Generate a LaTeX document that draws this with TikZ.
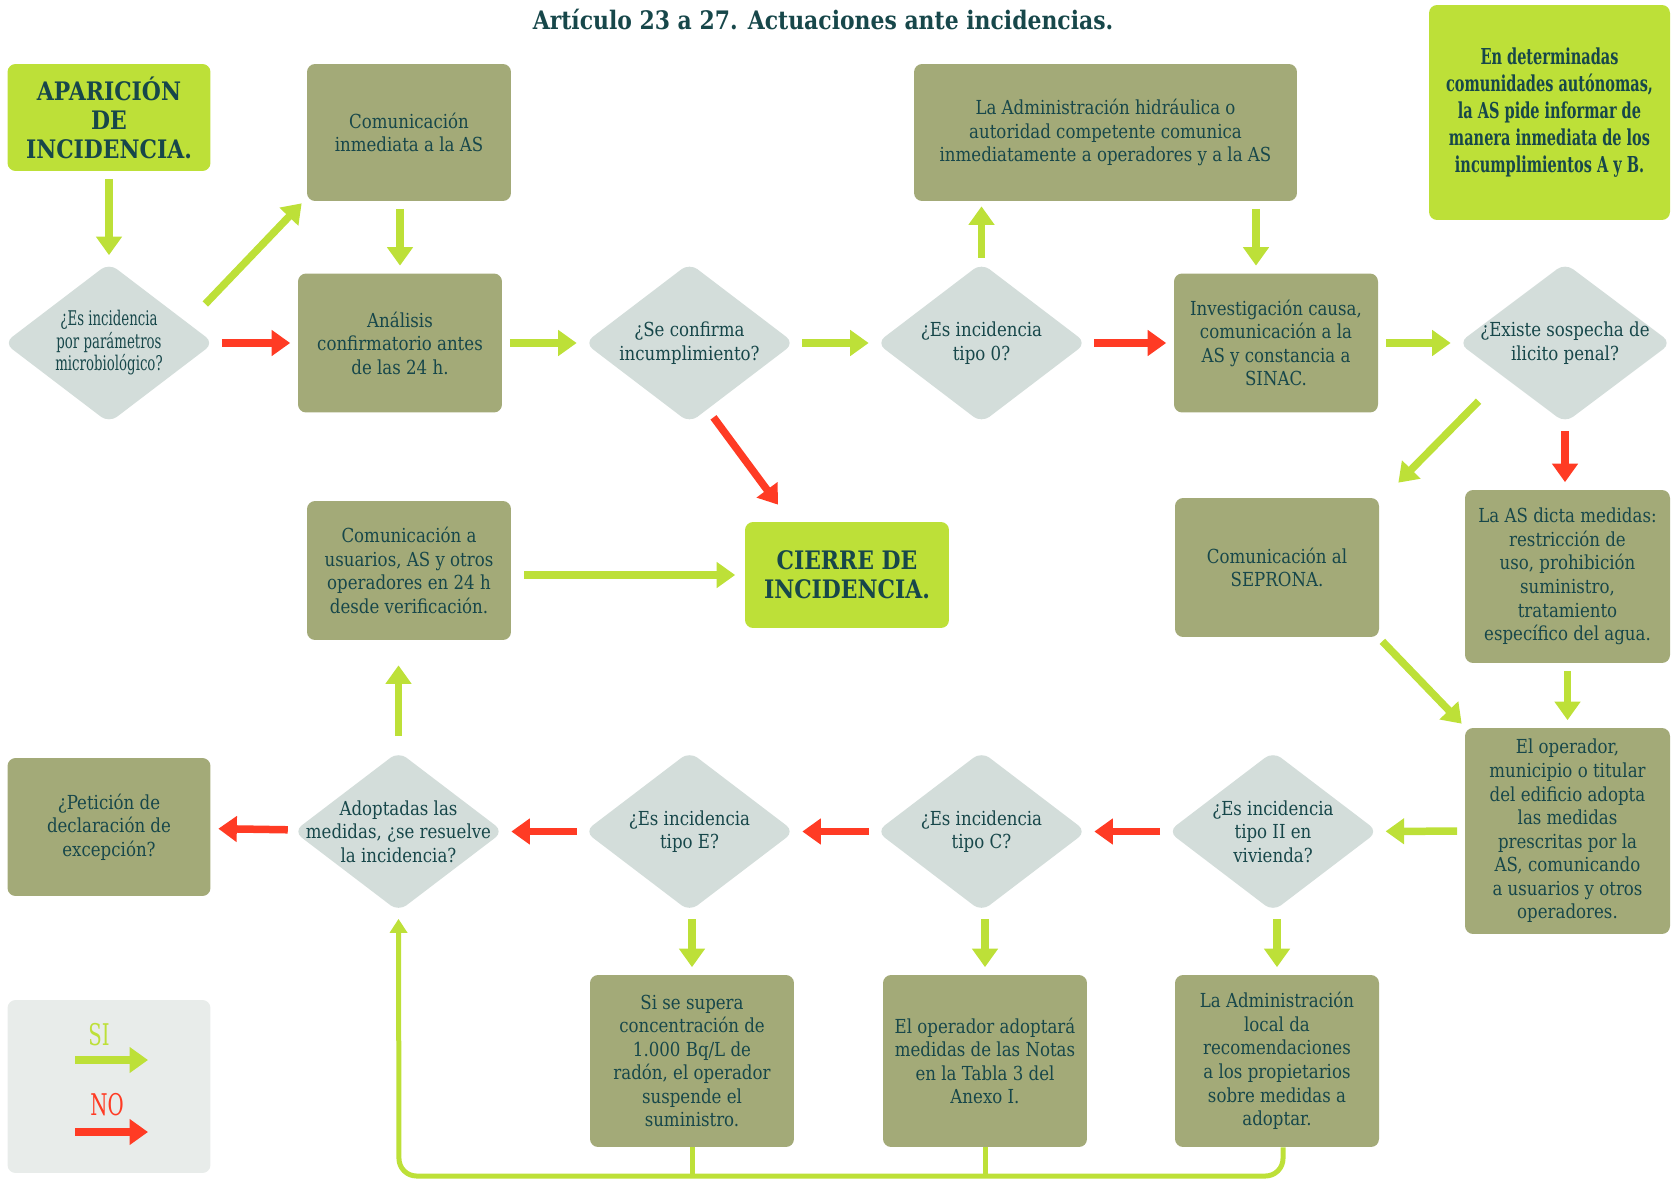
\documentclass[tikz,border=0pt]{standalone}
\usepackage{fontspec}
\setmainfont[FakeStretch=0.86]{DejaVu Serif}
\newfontfamily\condfont[FakeStretch=0.66]{DejaVu Serif}
\usetikzlibrary{shapes.geometric,arrows.meta,calc}
\definecolor{cink}{HTML}{17474A}
\definecolor{cbox}{HTML}{A3AA78}
\definecolor{clime}{HTML}{BDE038}
\definecolor{cdiam}{HTML}{D3DDDA}
\definecolor{cred}{HTML}{FF3B24}
\definecolor{clegend}{HTML}{E8ECEA}
\newcommand{\bodyfont}{\fontsize{11}{13.4}\selectfont}
\begin{document}
\begin{tikzpicture}[x=0.02cm,y=-0.02cm,
	box/.style={fill=cbox,rounded corners=0.16cm,text=cink,font=\bodyfont,align=center,minimum width=4.08cm,minimum height=2.78cm,inner sep=2pt},
	start/.style={box,fill=clime,font=\bfseries\fontsize{14.5}{16.5}\selectfont},
	ask/.style={diamond,fill=cdiam,rounded corners=0.2cm,minimum width=4.2cm,minimum height=3.2cm,inner sep=0pt},
	asktext/.style={text=cink,font=\bodyfont,align=center},
	siarr/.style={draw=clime,line width=0.15cm,-{Triangle[width=0.5cm,length=0.37cm]}},
	noarr/.style={siarr,draw=cred},
	spaced/.style={shorten <=0.15cm,shorten >=0.15cm},
	loopline/.style={draw=clime,line width=0.1cm}]
		\useasboundingbox(0,0)rectangle(1676,1179);
		\node[cink,font=\bfseries\fontsize{14.5}{16}\selectfont](title)at(823,19){Artículo 23 a 27. Actuaciones ante incidencias.};
		\node[start,minimum width=4.06cm,minimum height=2.14cm](apar)at(109,117.5){APARICIÓN\\DE\\INCIDENCIA.};
		\node[box,minimum height=2.74cm](com1)at(409,132.5){Comunicación\\inmediata a la AS};
		\node[box,minimum width=7.66cm,minimum height=2.74cm](lah)at(1105.5,132.5){La Administración hidráulica o\\autoridad competente comunica\\inmediatamente a operadores y a la AS};
		\node[box,fill=clime,minimum width=4.82cm,minimum height=4.3cm,font=\condfont\bfseries\fontsize{12.5}{15.4}\selectfont](ccaa)at(1549.5,112.5){En determinadas\\comunidades autónomas,\\la AS pide informar de\\manera inmediata de los\\incumplimientos A y B.};
		\node[ask,label={[asktext,font=\condfont\fontsize{11.5}{12.8}\selectfont]center:¿Es incidencia\\por parámetros\\microbiológico?}](d1)at(109,343){};
		\node[box](ana)at(400,343){Análisis\\confirmatorio antes\\de las 24 h.};
		\node[ask,label={[asktext]center:¿Se confirma\\incumplimiento?}](conf)at(689.5,343){};
		\node[ask,label={[asktext]center:¿Es incidencia\\tipo 0?}](t0)at(981.5,343){};
		\node[box](inv)at(1276,343){Investigación causa,\\comunicación a la\\AS y constancia a\\SINAC.};
		\node[ask,minimum width=4.26cm,label={[asktext]center:¿Existe sospecha de\\ilicito penal?}](pen)at(1565,343){};
		\node[box](cu)at(409,570.5){Comunicación a\\usuarios, AS y otros\\operadores en 24 h\\desde verificación.};
		\node[start,minimum height=2.12cm](fin)at(847,575){CIERRE DE\\INCIDENCIA.};
		\node[box](sep)at(1277,567.5){Comunicación al\\SEPRONA.};
		\node[box,minimum width=4.1cm,minimum height=3.46cm](dicta)at(1567.5,576.5){La AS dicta medidas:\\restricción de\\uso, prohibición\\suministro,\\tratamiento\\específico del agua.};
		\node[box,minimum width=4.06cm,minimum height=2.76cm](pet)at(109,827){¿Petición de\\declaración de\\excepción?};
		\node[ask,label={[asktext]center:Adoptadas las\\medidas, ¿se resuelve\\la incidencia?}](res)at(398.5,831.5){};
		\node[ask,label={[asktext]center:¿Es incidencia\\tipo E?}](te)at(689.5,831.5){};
		\node[ask,label={[asktext]center:¿Es incidencia\\tipo C?}](tc)at(981.5,831.5){};
		\node[ask,label={[asktext]center:¿Es incidencia\\tipo II en\\vivienda?}](t2)at(1273,831.5){};
		\node[box,minimum width=4.1cm,minimum height=4.12cm](op)at(1567.5,831){El operador,\\municipio o titular\\del edificio adopta\\las medidas\\prescritas por la\\AS, comunicando\\a usuarios y otros\\operadores.};
		\node[box,minimum height=3.44cm](radon)at(692,1061){Si se supera\\concentración de\\1.000 Bq/L de\\radón, el operador\\suspende el\\suministro.};
		\node[box,minimum height=3.44cm](notas)at(985,1061){El operador adoptará\\medidas de las Notas\\en la Tabla 3 del\\Anexo I.};
		\node[box,minimum height=3.44cm](local)at(1277,1061){La Administración\\local da\\recomendaciones\\a los propietarios\\sobre medidas a\\adoptar.};
		\node[fill=clegend,rounded corners=0.16cm,minimum width=4.06cm,minimum height=3.46cm](leg)at(109,1086.5){};
		\node[text=clime,font=\condfont\fontsize{17}{17}\selectfont](lsi)at(99,1035){SI};
		\node[text=cred,font=\condfont\fontsize{17}{17}\selectfont](lno)at(107,1105){NO};
		\coordinate(si1)at(75,1060);
		\coordinate(si2)at(148,1060);
		\coordinate(no1)at(75,1132);
		\coordinate(no2)at(148,1132);
		\coordinate(base)at(399,1176);
		\draw[siarr](si1)--(si2);
		\draw[noarr](no1)--(no2);
		\draw[siarr,spaced](apar)--(d1);
		\draw[siarr]([shift={(-9,-39)}]d1.east)--([shift={(-5,2)}]com1.south west);
		\draw[noarr,spaced](d1)--(ana);
		\draw[siarr,spaced](com1.south-|ana.north)--(ana.north);
		\draw[siarr,spaced](ana)--(conf);
		\draw[siarr,spaced](conf)--(t0);
		\draw[noarr]([shift={(24,-6)}]conf.south)--([shift={(-69,-17)}]fin.north);
		\draw[siarr,shorten <=0.1cm,shorten >=0.1cm](t0.north)--(t0.north|-lah.south);
		\draw[siarr,spaced]($(inv.north|-lah.south)+(-20,0)$)--($(inv.north)+(-20,0)$);
		\draw[noarr,spaced](t0)--(inv);
		\draw[siarr,spaced](inv)--(pen);
		\draw[siarr]([shift={(-33,18)}]pen.south west)--([shift={(19,-15)}]sep.north east);
		\draw[noarr,spaced](pen.south)--(pen.south|-dicta.north);
		\draw[siarr]([shift={(3,4)}]sep.south east)--([shift={(-3,-4)}]op.north west);
		\draw[siarr,spaced](dicta)--(op);
		\draw[siarr,spaced](op)--(t2);
		\draw[noarr,spaced](t2)--(tc);
		\draw[noarr,spaced](tc)--(te);
		\draw[noarr,spaced](te)--(res);
		\draw[noarr,spaced](res)--(pet);
		\draw[siarr,shorten <=0.3cm,shorten >=0.5cm](res.north)--(res.north|-cu.south);
		\draw[siarr,shorten <=0.26cm,shorten >=0.19cm](cu.east|-fin.west)--(fin.west);
		\draw[siarr,spaced](t2.south-|local.north)--(local.north);
		\draw[siarr,spaced](tc.south-|notas.north)--(notas.north);
		\draw[siarr,spaced](te.south-|radon.north)--(radon.north);
		\draw[loopline,rounded corners=0.35cm,-{Triangle[width=0.34cm,length=0.28cm]},shorten >=0.14cm]([xshift=0.12cm]local.south)|-(base)--(res.south);
		\draw[loopline](radon.south)--(radon.south|-base);
		\draw[loopline](notas.south)--(notas.south|-base);
	    \end{tikzpicture}
\end{document}
